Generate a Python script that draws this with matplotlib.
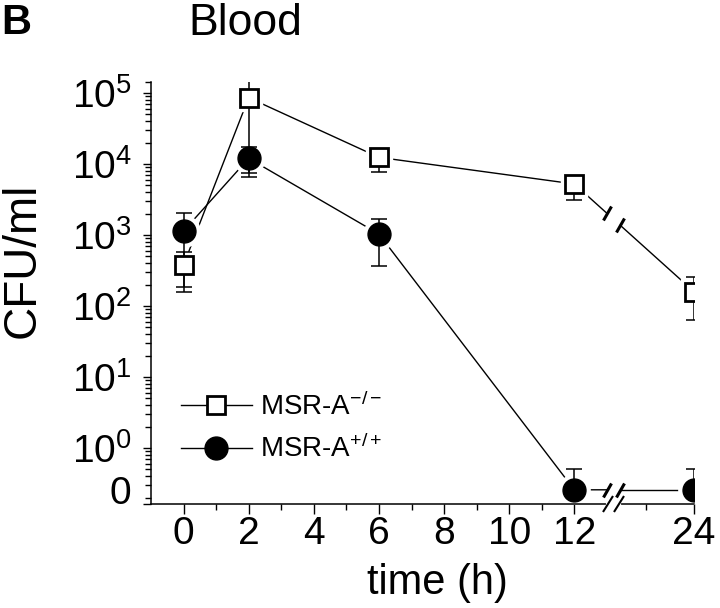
import numpy as np
import matplotlib
matplotlib.use('Agg')
import matplotlib.pyplot as plt
from matplotlib.lines import Line2D
from matplotlib.markers import MarkerStyle
from matplotlib.ticker import NullFormatter
from matplotlib.transforms import Affine2D, ScaledTranslation
import matplotlib.transforms as mtransforms

plt.rcParams['font.family'] = ['Liberation Sans', 'DejaVu Sans']
plt.rcParams['mathtext.fontset'] = 'custom'
plt.rcParams['mathtext.rm'] = 'Liberation Sans'
plt.rcParams['mathtext.it'] = 'Liberation Sans:italic'
plt.rcParams['mathtext.bf'] = 'Liberation Sans:bold'
plt.rcParams['mathtext.default'] = 'regular'

# ---------------- data ----------------
time_h = [0, 2, 6, 12, 24]
ko_mean = [378, 85900, 12400, 5230, 159]        # MSR-A -/-
ko_low = [157, 6560, 7640, 3110, 63.5]
ko_high = [576, 161000, 14500, 6000, 259]
wt_mean = [1138, 12000, 1030, 0, 0]             # MSR-A +/+
wt_low = [185, 7400, 366, 0, 0]
wt_high = [2040, 17200, 1700, 0.51, 0.51]

x_major = [0, 2, 4, 6, 8, 10, 12, 24]
x_minor = [1, 3, 5, 7, 9, 11, 20]
y_major_exp = [0, 1, 2, 3, 4, 5]
series_labels = [r'MSR-A$^{-/-}$', r'MSR-A$^{+/+}$']
xlabel = 'time (h)'
ylabel = 'CFU/ml'
title = 'Blood'
panel = 'B'

# ---------------- broken time axis (compressed after 12 h) ----------------
KNOT_T = [-10, 12, 18, 20, 24, 40]
KNOT_S = [-10, 12, 13.2, 14.2, 15.675, 15.675 + 16 * 0.369]
BREAK_T = 18


def fwd(t):
    return np.interp(t, KNOT_T, KNOT_S)


def inv(s):
    return np.interp(s, KNOT_S, KNOT_T)


ZERO_PLOT = 10 ** -0.59      # where "0" counts are drawn
YMIN, YMAX = 10 ** -0.79, 10 ** 5.155

fig = plt.figure(figsize=(7.2, 6.08), dpi=100)
ax = fig.add_axes([151 / 720, 1 - 504 / 608, (694 - 151) / 720, (504 - 82) / 608])
ax.set_xscale('function', functions=(fwd, inv))
ax.set_yscale('log')
ax.set_xlim(-1, 24)
ax.set_ylim(YMIN, YMAX)

GAP = 0.21  # half-gap of break in scaled units
slash = MarkerStyle('|', transform=Affine2D().rotate_deg(-30))


def draw_series(mean, low, high, marker, ms, mfc, mew):
    t = np.array(time_h, float)
    m = np.array(mean, float)
    y = np.where(m > 0, m, ZERO_PLOT)
    lo = np.array(low, float)
    hi = np.array(high, float)
    ylo = np.where(lo > 0, y - lo, 0)
    yhi = hi - y
    # line, split at the axis break
    s = fwd(t)
    ly = np.log10(y)
    sb = fwd(BREAK_T)
    sl, sr = sb - GAP, sb + GAP
    yl = 10 ** np.interp(sl, s, ly)
    yr = 10 ** np.interp(sr, s, ly)
    tl, tr = inv(sl), inv(sr)
    pre = t <= 12
    ax.plot(np.r_[t[pre], tl], np.r_[y[pre], yl], color='black', lw=1.0, zorder=1)
    ax.plot(np.r_[tr, t[~pre]], np.r_[yr, y[~pre]], color='black', lw=1.0, zorder=1)
    ax.plot([tl, tr], [yl, yr], ls='none', marker=slash, ms=11, mew=2.2,
            color='black', zorder=1)
    # white halo around markers
    ax.plot(t, y, ls='none', marker=marker, ms=ms + 6, mfc='white', mec='white', zorder=2)
    ax.errorbar(t, y, yerr=[ylo, yhi], fmt='none', ecolor='black', elinewidth=1.1,
                capsize=6, capthick=1.1, zorder=3)
    ax.plot(t, y, ls='none', marker=marker, ms=ms, mfc=mfc, mec='black', mew=mew, zorder=4)


draw_series(ko_mean, ko_low, ko_high, 's', 13, 'white', 2.0)
draw_series(wt_mean, wt_low, wt_high, 'o', 16.5, 'black', 1.0)

# axes styling
for sp in ['top', 'right']:
    ax.spines[sp].set_visible(False)
for sp in ['left', 'bottom']:
    ax.spines[sp].set_linewidth(1.1)

ax.set_xticks(x_major)
ax.set_xticklabels([str(v) for v in x_major])
ax.set_xticks(x_minor, minor=True)
ax.xaxis.set_minor_formatter(NullFormatter())
ax.tick_params(axis='x', which='major', length=7, width=1, pad=2, labelsize=28)
ax.tick_params(axis='x', which='minor', length=4, width=1)

yt = [YMIN] + [10.0 ** e for e in y_major_exp]
ax.set_yticks(yt)
ax.set_yticklabels(['0'] + [r'$10^{%d}$' % e for e in y_major_exp])
ymin_minor = []
for e in range(-1, 5):
    for k in range(2, 10):
        v = k * 10.0 ** e
        if YMIN < v < YMAX:
            ymin_minor.append(v)
ymin_minor.append(YMAX)
ax.set_yticks(ymin_minor, minor=True)
ax.yaxis.set_minor_formatter(NullFormatter())
ax.tick_params(axis='y', which='major', length=6, width=1, pad=8, labelsize=28)
ax.tick_params(axis='y', which='minor', length=4, width=1)
zero_lab = ax.get_yticklabels()[0]
zero_lab.set_transform(zero_lab.get_transform() +
                       ScaledTranslation(0, 10 / 72, fig.dpi_scale_trans))

# x axis break marks
bt = mtransforms.blended_transform_factory(ax.transData, ax.transAxes)
sb = fwd(BREAK_T)
ax.plot([inv(sb - GAP + 0.03), inv(sb + GAP - 0.03)], [0, 0], color='white', lw=3,
        transform=bt, clip_on=False, zorder=5)
ax.plot([inv(sb - GAP + 0.05), inv(sb + GAP - 0.05)], [0, 0], ls='none', marker=slash,
        ms=14, mew=1.5, color='black', transform=bt, clip_on=False, zorder=6)

ax.set_xlabel(xlabel, fontsize=30)
ax.xaxis.set_label_coords(0.528, -0.14)
ax.set_ylabel(ylabel, fontsize=33)
ax.yaxis.label.set_va('center')
ax.yaxis.set_label_coords((23 - 151) / 543, (504 - 260) / 422)

# legend
handles = [
    Line2D([], [], color='black', lw=1.0, marker='s', ms=13, mfc='white', mec='black', mew=2.0),
    Line2D([], [], color='black', lw=1.0, marker='o', ms=16.5, mfc='black', mec='black'),
]
ax.legend(handles, series_labels, loc='upper left', bbox_to_anchor=(0.055, 0.264),
          frameon=False, fontsize=20, handlelength=2.55, handletextpad=0.3,
          labelspacing=0.5, borderaxespad=0, borderpad=0)

fig.text(245 / 720, 1 - 35 / 608, title, ha='center', va='baseline', fontsize=32)
fig.text(1 / 720, 1 - 34 / 608, panel, ha='left', va='baseline', fontsize=30,
         fontweight='bold')

fig.savefig('out.png', dpi=100)
